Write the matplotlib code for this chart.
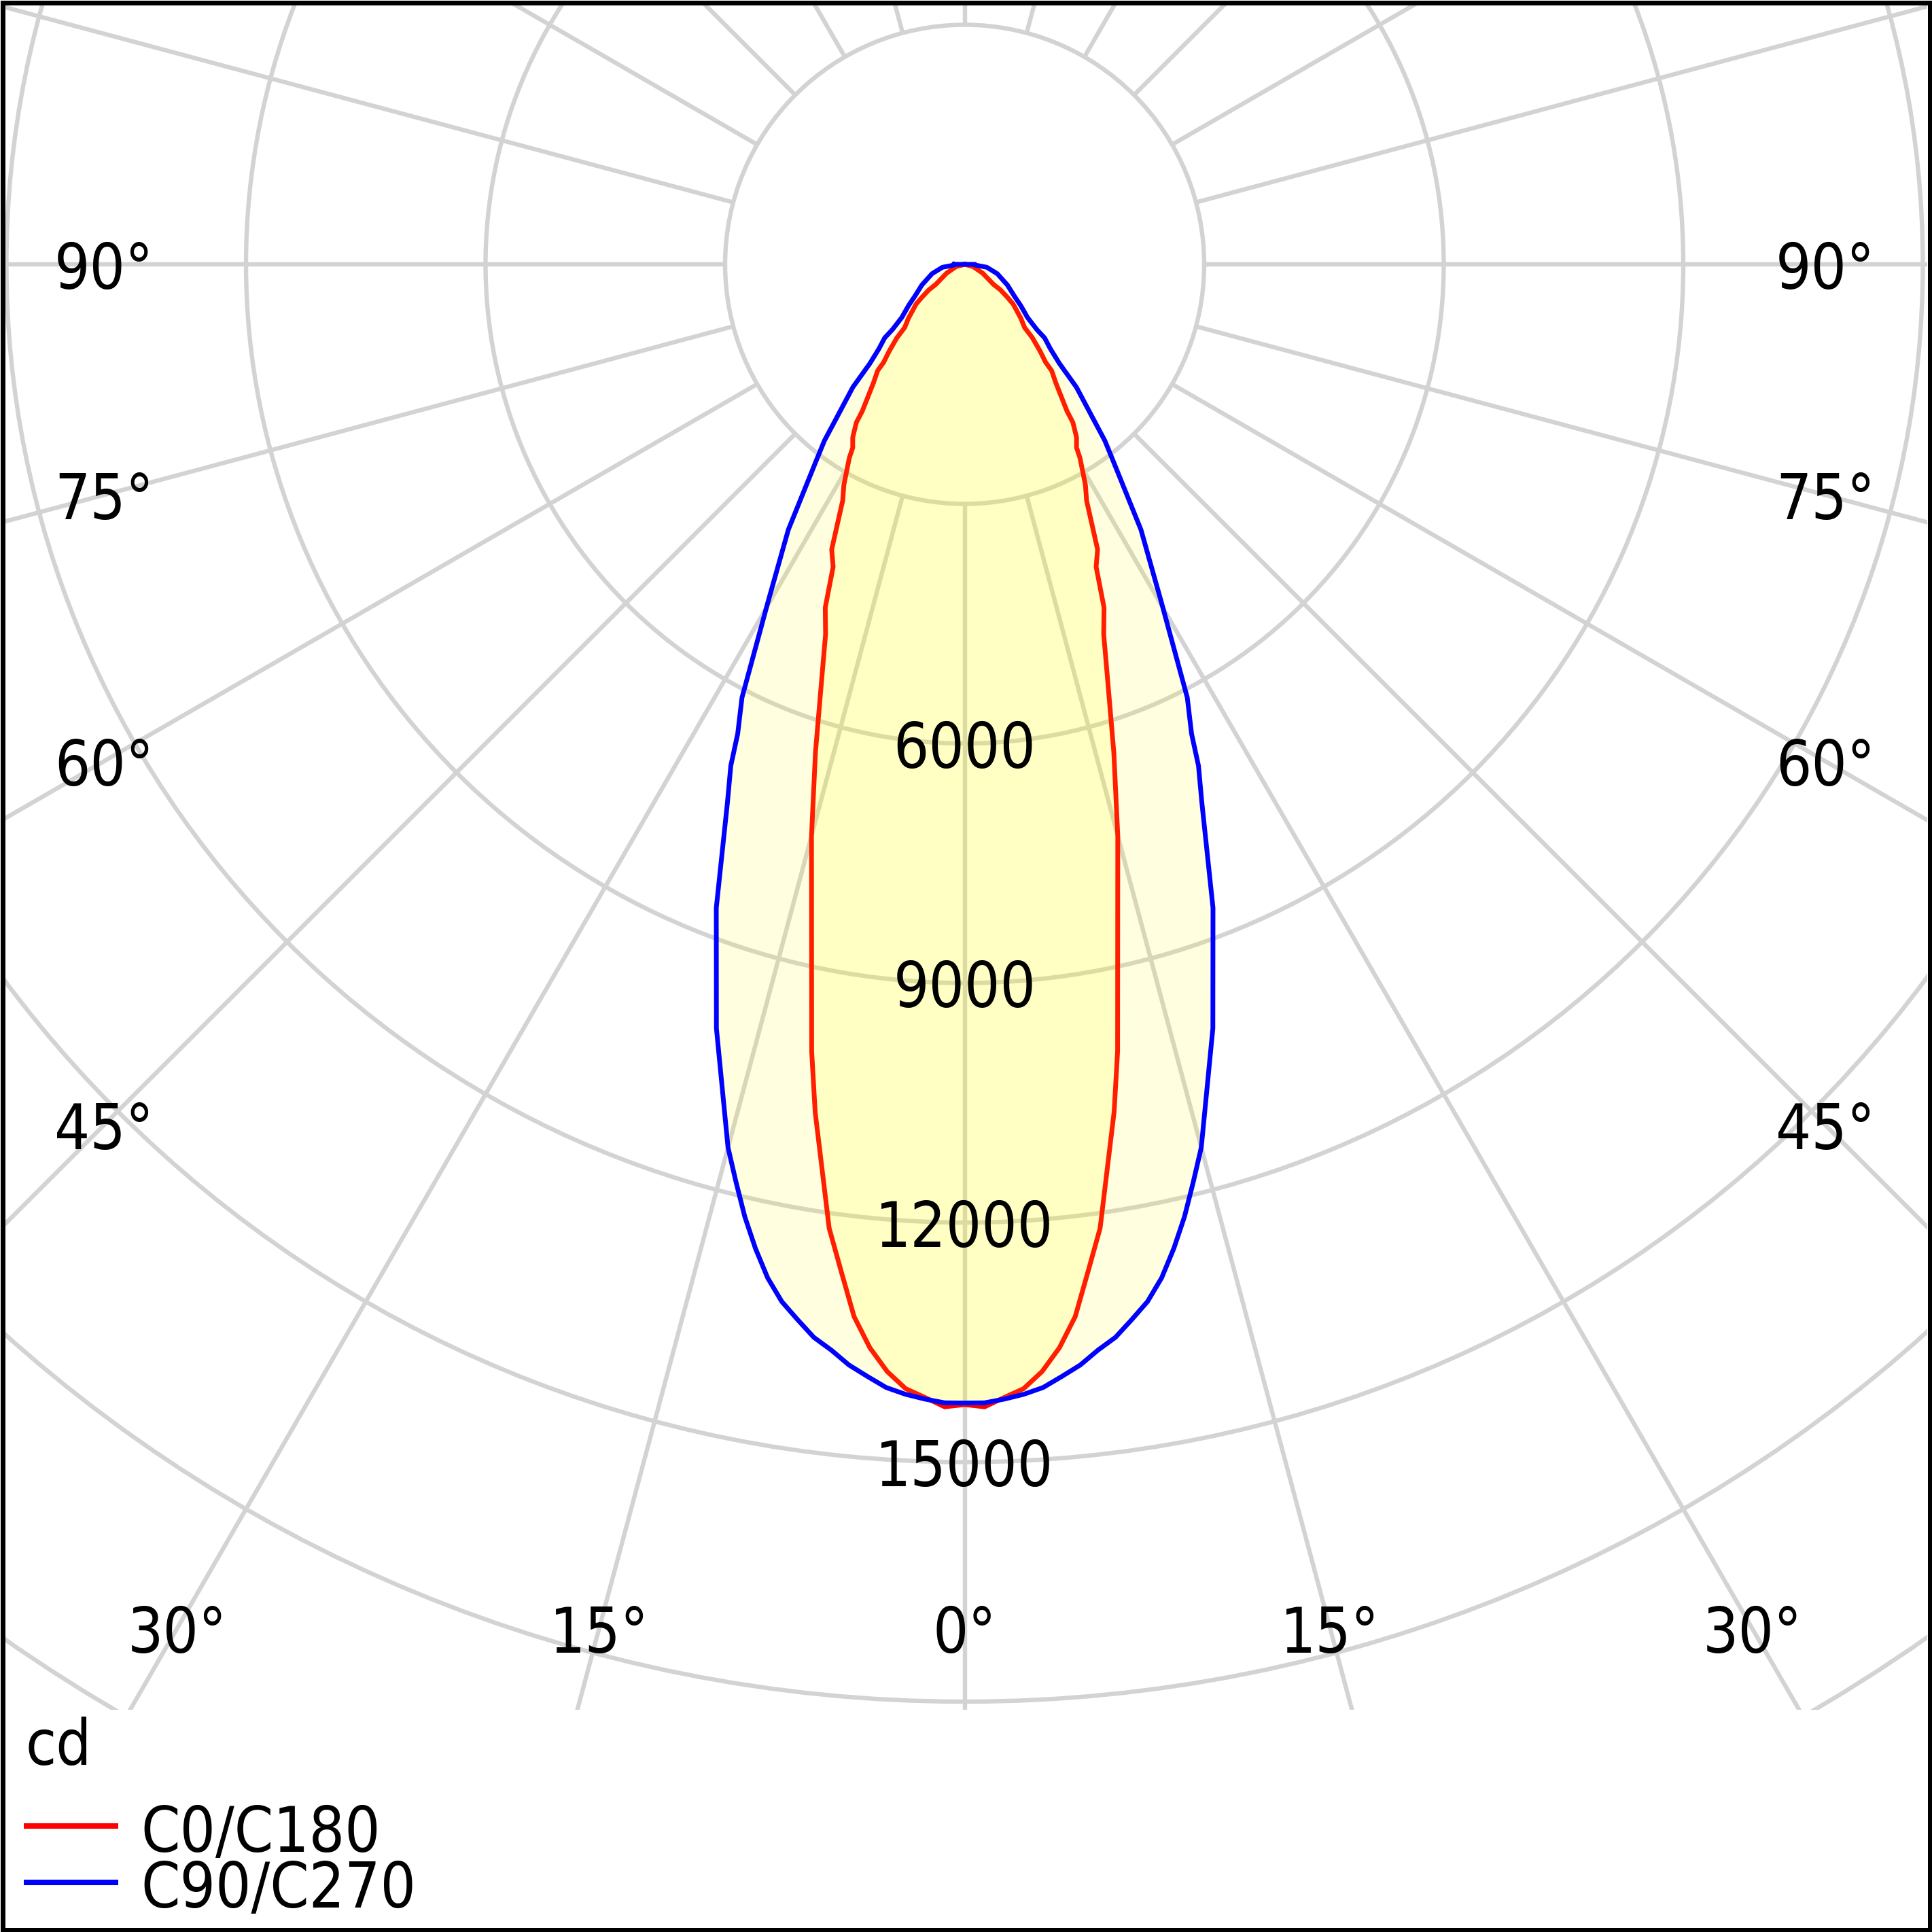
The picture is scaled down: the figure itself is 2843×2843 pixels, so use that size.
import numpy as np
import matplotlib
matplotlib.use('Agg')
import matplotlib.pyplot as plt
import matplotlib.patches as mpatches
from matplotlib.lines import Line2D
from matplotlib import font_manager

# luminous intensity, gamma in degrees from nadir, values in cd
gamma_c0 = [0, 1, 2, 3, 4, 5, 6, 7, 8, 10, 11, 15, 17, 19.6, 20.6, 22.1, 23.5, 25,
            27.3, 28.7, 30.8, 31.4, 32.9, 34.4, 34.9, 37.6, 39.3, 39.6, 41, 42.7,
            43.5, 46.2, 50.7, 52.4, 54.5, 55.2, 57.2, 64, 75, 90]
cd_c0 = [14280, 14310, 14200, 14100, 13900, 13620, 13250, 12700, 12190, 10780, 10040,
         7410, 6390, 5280, 4950, 4640, 4130, 3940, 3330, 3150, 2820, 2690, 2580, 2400,
         2240, 1870, 1720, 1590, 1440, 1250, 1090, 975, 785, 675, 550, 440, 375, 250,
         110, 0]

gamma_c90 = [0, 1, 2, 3, 4, 5, 6, 7, 8, 9, 10, 11, 12, 13, 14, 15, 18, 21.1, 23.8, 25,
             25.8, 27.2, 30.2, 33.6, 37, 38.5, 39.9, 42.3, 43.7, 45.4, 47.4, 47.9, 49.8,
             53.6, 57.4, 64.2, 74, 82.5, 86, 90]
cd_c90 = [14260, 14260, 14220, 14170, 14100, 13980, 13860, 13700, 13570, 13380, 13190,
          12930, 12600, 12240, 11840, 11450, 10060, 8640, 7360, 6930, 6530, 6100, 4900,
          3990, 3100, 2820, 2490, 2080, 1720, 1510, 1360, 1220, 1030, 875, 740, 595,
          425, 280, 135, 130]

ring_values = [3000, 6000, 9000, 12000, 15000, 18000, 21000, 24000]
ring_labels = [6000, 9000, 12000, 15000]
angle_ticks = [0, 15, 30, 45, 60, 75, 90]
legend_names = ['C0/C180', 'C90/C270']
unit_label = 'cd'

W = 2843
plt.rcParams['font.family'] = ['DejaVu Sans']

# a condensed DejaVu is closer to the narrow font of the original, if it exists
cond = [f for f in font_manager.fontManager.ttflist
        if f.name == 'DejaVu Sans' and f.stretch == 'condensed'
        and f.style == 'normal' and f.weight in (400, 'normal')]
if cond:
    fp = font_manager.FontProperties(fname=cond[0].fname, size=66)
else:
    fp = font_manager.FontProperties(family='DejaVu Sans', size=66)

fig = plt.figure(figsize=(W / 100, W / 100), dpi=100)


def fx(px):
    return px / W


def fy(py):
    return 1 - py / W


# plot area in pixels, polar centre and scale
left, right, top, bottom = 7, 2836, 7, 2516
cx, cy = 1419.5, 389
k = 0.1175  # px per cd

ax = fig.add_axes([fx(left), fy(bottom), (right - left) / W, (bottom - top) / W])
ax.set_xlim(-(cx - left) / k, (right - cx) / k)
ax.set_ylim(-(bottom - cy) / k, (cy - top) / k)
ax.axis('off')

grid_col = '#d3d3d3'
grid_lw = 4.6
for r in ring_values:
    ax.add_patch(mpatches.Circle((0, 0), r, fill=False, ec=grid_col, lw=grid_lw, zorder=1))
for a in range(0, 360, 15):
    t = np.radians(a)
    ax.plot([3000 * np.sin(t), 40000 * np.sin(t)], [-3000 * np.cos(t), -40000 * np.cos(t)],
            color=grid_col, lw=grid_lw, solid_capstyle='butt', zorder=1)


def outline(g, c):
    g = np.array(g, float)
    c = np.array(c, float)
    ang = np.radians(np.concatenate([-g[::-1], g[1:]]))
    r = np.concatenate([c[::-1], c[1:]])
    x = r * np.sin(ang)
    y = -r * np.cos(ang)
    return np.append(x, x[0]), np.append(y, y[0])


colors = ['#ff0000', '#0000ff']
z = 2
for g, c, col in zip([gamma_c0, gamma_c90], [cd_c0, cd_c90], colors):
    x, y = outline(g, c)
    ax.fill(x, y, color=(1, 1, 0), alpha=0.12, lw=0, zorder=z)
    ax.plot(x, y, color=col, lw=5.0, solid_joinstyle='round', zorder=z + 1)
    z += 2

for r in ring_labels:
    ax.text(0, -r, str(r), ha='center', va='center_baseline', fontproperties=fp, zorder=10)

# angle labels sit where each spoke meets an inner box
XB, YB = 1266.5 / k, 2007.5 / k
for a in angle_ticks:
    t = np.radians(a)
    s = min(XB / np.sin(t) if a else 1e9, YB / np.cos(t) if a != 90 else 1e9)
    for sign in ([1] if a == 0 else [-1, 1]):
        ax.text(sign * s * np.sin(t), -s * np.cos(t), f'{a}°', ha='center',
                va='center_baseline', fontproperties=fp, zorder=10)

# legend
fig.text(fx(37), fy(2597), unit_label, ha='left', va='baseline', fontproperties=fp)
for i, (name, col) in enumerate(zip(legend_names, colors)):
    yl = 2687 + 83 * i
    fig.add_artist(Line2D([fx(35), fx(174)], [fy(yl), fy(yl)], color=col, lw=5.8,
                          solid_capstyle='butt'))
    fig.text(fx(207), fy(2725 + 82 * i), name, ha='left', va='baseline', fontproperties=fp)

fig.add_artist(mpatches.Rectangle((fx(3.5), fy(W - 3.5)), (W - 7) / W, (W - 7) / W,
                                  transform=fig.transFigure, fill=False, ec='black',
                                  lw=7 * 0.72))

fig.savefig('out.png', dpi=100)
